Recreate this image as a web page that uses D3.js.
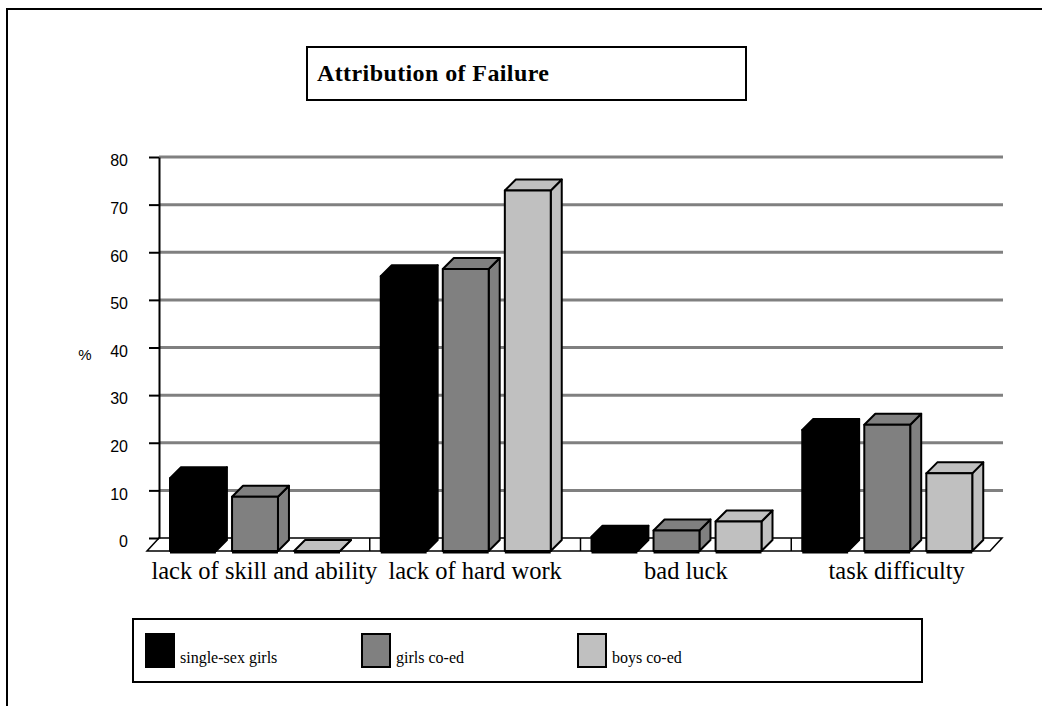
<!DOCTYPE html>
<html>
<head>
<meta charset="utf-8">
<script src="https://cdn.jsdelivr.net/npm/d3@7"></script>
<style>
  html, body { margin: 0; padding: 0; background: #fff; }
  svg { display: block; }
</style>
</head>
<body>
<svg id="chart" width="1042" height="706"></svg>
<script>
// ---- data ----
const categories = ["lack of skill and ability", "lack of hard work", "bad luck", "task difficulty"];
const seriesNames = ["single-sex girls", "girls co-ed", "boys co-ed"];
const singleSexGirls = [15.3, 57.7, 3.0, 25.4];
const girlsCoEd = [11.4, 59.2, 4.3, 26.5];
const boysCoEd = [0, 75.7, 6.2, 16.3];
const yTicks = [0, 10, 20, 30, 40, 50, 60, 70, 80];
const seriesColors = ["#000000", "#808080", "#c0c0c0"];

const seriesValues = [singleSexGirls, girlsCoEd, boysCoEd];

const svg = d3.select("#chart");
const serif = "'Liberation Serif', 'Times New Roman', serif";
const sans = "'Liberation Sans', Arial, sans-serif";

// outer frame
svg.append("rect")
  .attr("x", 7).attr("y", 9).attr("width", 1100).attr("height", 760)
  .attr("fill", "none").attr("stroke", "#000").attr("stroke-width", 2);

// title box
svg.append("rect")
  .attr("x", 307).attr("y", 47).attr("width", 439).attr("height", 53)
  .attr("fill", "#fff").attr("stroke", "#000").attr("stroke-width", 2);
svg.append("text")
  .attr("x", 317).attr("y", 81)
  .attr("font-family", serif).attr("font-weight", "bold").attr("font-size", 24)
  .attr("letter-spacing", 0.4)
  .text("Attribution of Failure");

// ---- scales ----
// back wall plane
const y = d3.scaleLinear().domain([0, 80]).range([538, 157]);
// floor depth: front plane is shifted left/down from the back wall
const floorDx = 12, floorDy = 13;
const barDx = 11, barDy = 11;
const backLeft = 159, backRight = 1002;
const x0 = d3.scaleBand().domain(categories).range([backLeft - floorDx, backRight - floorDx]);
const x1 = d3.scaleBand().domain(seriesNames).range([23, 193]).paddingInner(0.26);

// gridlines on the back wall
svg.append("g").selectAll("line")
  .data(yTicks.filter(t => t > 0))
  .join("line")
  .attr("x1", backLeft).attr("x2", backRight + 1)
  .attr("y1", d => y(d)).attr("y2", d => y(d))
  .attr("stroke", "#808080").attr("stroke-width", 3);

// floor
const fy0 = y(0);
svg.append("path")
  .attr("d", `M${backLeft},${fy0} L${backRight},${fy0} L${backRight - floorDx},${fy0 + floorDy} L${backLeft - floorDx},${fy0 + floorDy} Z`)
  .attr("fill", "#fff").attr("stroke", "#000").attr("stroke-width", 1.5);

// category separators on the floor
svg.append("g").selectAll("line")
  .data(categories.slice(1))
  .join("line")
  .attr("x1", d => x0(d) + floorDx).attr("x2", d => x0(d) + floorDx)
  .attr("y1", fy0).attr("y2", fy0 + floorDy)
  .attr("stroke", "#000").attr("stroke-width", 1.5);

// y axis
const yAxis = d3.axisLeft(y).tickValues(yTicks).tickSize(10).tickSizeOuter(0).tickPadding(21);
const ag = svg.append("g").attr("transform", `translate(${backLeft},0)`).call(yAxis);
ag.select(".domain").attr("stroke", "#000").attr("stroke-width", 2);
ag.selectAll(".tick line").attr("stroke", "#000").attr("stroke-width", 2);
ag.selectAll(".tick text")
  .attr("font-family", sans).attr("font-size", 16).attr("fill", "#000")
  .attr("dy", "0.55em");

// axis unit
svg.append("text")
  .attr("x", 85).attr("y", 360).attr("text-anchor", "middle")
  .attr("font-family", sans).attr("font-size", 15)
  .text("%");

// ---- bars ----
const bars = [];
categories.forEach((c, ci) => {
  seriesNames.forEach((s, si) => {
    bars.push({ cat: c, series: s, value: seriesValues[si][ci], color: seriesColors[si] });
  });
});

const bg = svg.append("g");
bars.forEach(b => {
  const xl = x0(b.cat) + x1(b.series);
  const w = x1.bandwidth();
  const yb = fy0 + floorDy;
  const yt = y(b.value) + floorDy;
  const g = bg.append("g")
    .attr("fill", b.color).attr("stroke", "#000").attr("stroke-width", 2)
    .attr("stroke-linejoin", "round");
  // side face
  g.append("path")
    .attr("d", `M${xl + w},${yb} L${xl + w + barDx},${yb - barDy} L${xl + w + barDx},${yt - barDy} L${xl + w},${yt} Z`);
  // top face
  g.append("path")
    .attr("d", `M${xl},${yt} L${xl + barDx},${yt - barDy} L${xl + w + barDx},${yt - barDy} L${xl + w},${yt} Z`);
  // front face
  g.append("rect")
    .attr("x", xl).attr("y", yt).attr("width", w).attr("height", yb - yt);
  // thick base line
  g.append("line")
    .attr("x1", xl).attr("x2", xl + w).attr("y1", yb + 1).attr("y2", yb + 1)
    .attr("stroke-width", 3);
});

// category labels, centred on the back edge of each group
svg.append("g").selectAll("text")
  .data(categories)
  .join("text")
  .attr("x", d => x0(d) + x0.bandwidth() / 2 + floorDx)
  .attr("y", 579)
  .attr("text-anchor", "middle")
  .attr("font-family", serif).attr("font-size", 24.5)
  .text(d => d);

// ---- legend ----
svg.append("rect")
  .attr("x", 133).attr("y", 619).attr("width", 789).attr("height", 63)
  .attr("fill", "#fff").attr("stroke", "#000").attr("stroke-width", 2);
const legendX = d3.scalePoint().domain(seriesNames).range([146, 578]);
const lg = svg.append("g").selectAll("g")
  .data(seriesNames)
  .join("g")
  .attr("transform", d => `translate(${legendX(d)},634)`);
lg.append("rect")
  .attr("width", 28).attr("height", 33)
  .attr("fill", (d, i) => seriesColors[i])
  .attr("stroke", "#000").attr("stroke-width", 2);
lg.append("text")
  .attr("x", 34).attr("y", 29)
  .attr("font-family", serif).attr("font-size", 16)
  .text(d => d);
</script>
</body>
</html>
